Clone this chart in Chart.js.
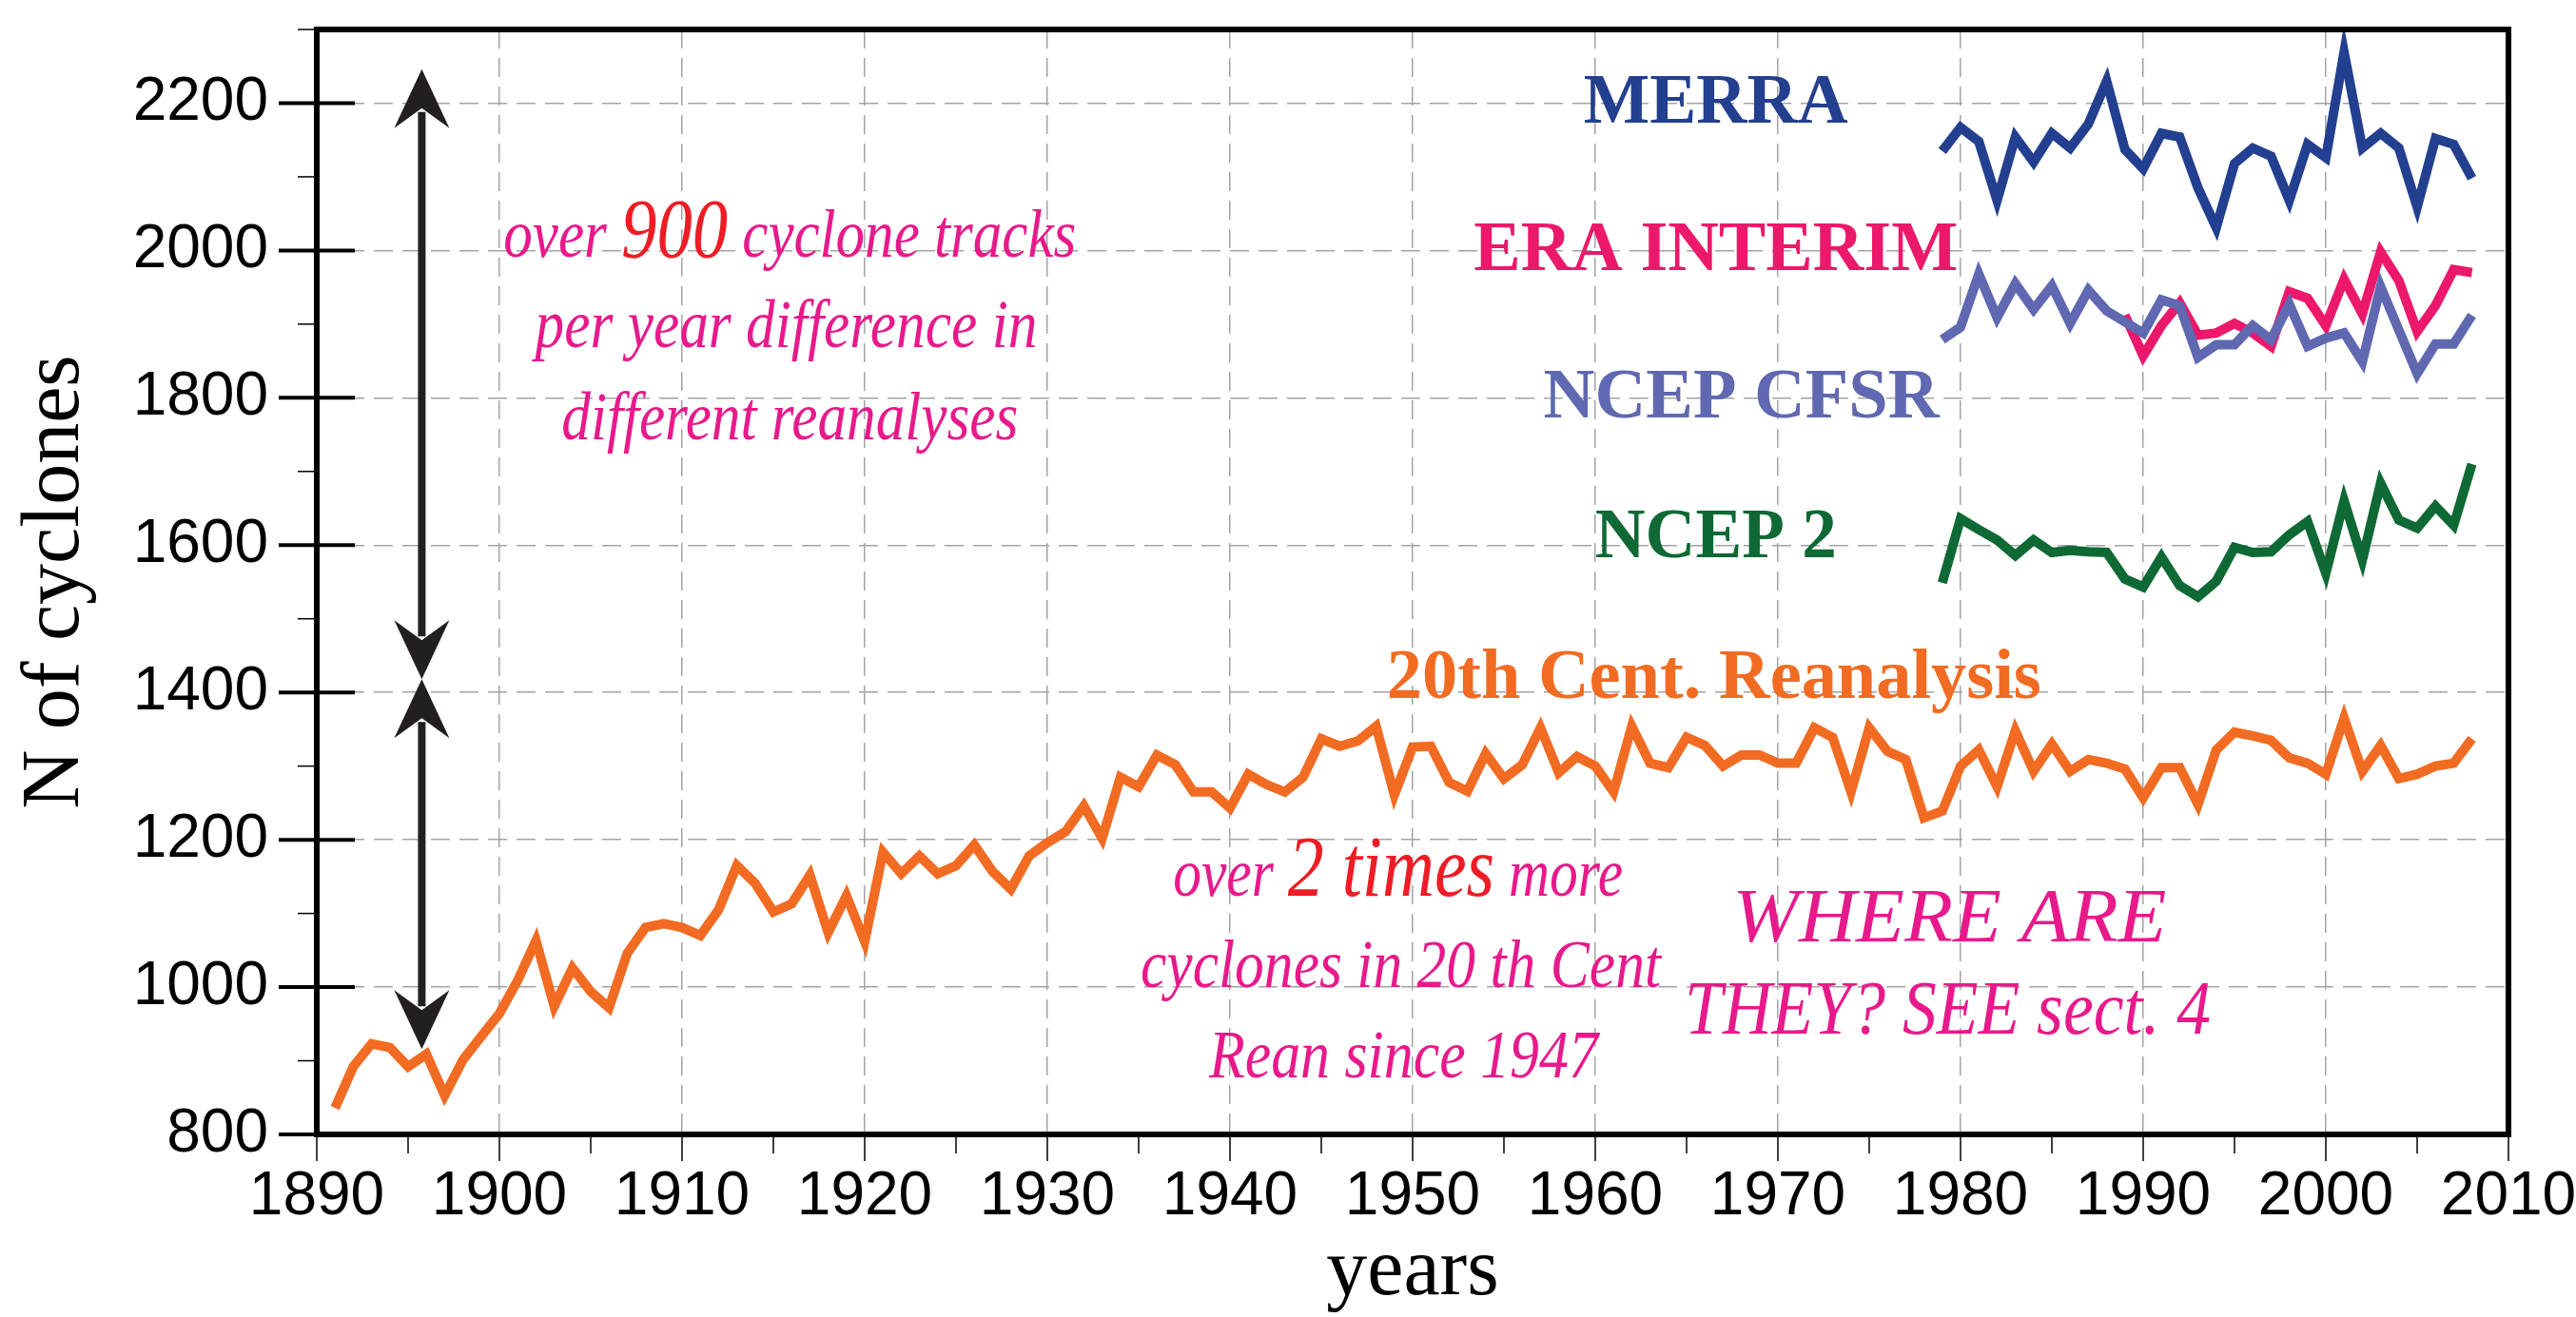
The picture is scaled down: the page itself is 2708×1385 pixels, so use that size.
<!DOCTYPE html>
<html>
<head>
<meta charset="utf-8">
<script src="https://cdn.jsdelivr.net/npm/chart.js@4.4.1/dist/chart.umd.min.js"></script>
<style>
  html, body { margin: 0; padding: 0; background: #fff; }
</style>
</head>
<body>
<canvas id="grafico" width="2708" height="1385"></canvas>
<script>
//#region dados
const anoInicio20 = 1891
const anoInicioRean = 1979
const anoInicioEra = 1989

// 20th Century Reanalysis, 1891-2008
const c20 = [
  836, 892, 923, 918, 892, 909, 853, 901, 933,
  964, 1009, 1063, 974, 1026, 994, 972, 1046, 1081, 1086,
  1081, 1070, 1105, 1165, 1141, 1102, 1113, 1152, 1074, 1124,
  1062, 1183, 1154, 1178, 1154, 1165, 1193, 1157, 1133, 1178,
  1196, 1211, 1246, 1202, 1285, 1272, 1315, 1302, 1265, 1265,
  1243, 1289, 1275, 1265, 1285, 1337, 1327, 1334, 1354, 1261,
  1326, 1327, 1278, 1266, 1317, 1283, 1302, 1352, 1291, 1313,
  1300, 1265, 1354, 1304, 1298, 1339, 1328, 1300, 1315, 1315,
  1304, 1304, 1352, 1339, 1265, 1352, 1320, 1309, 1230, 1239,
  1300, 1322, 1272, 1348, 1293, 1330, 1293, 1309, 1304, 1296,
  1257, 1298, 1298, 1248, 1322, 1346, 1341, 1335, 1311, 1304,
  1289, 1365, 1293, 1328, 1283, 1289, 1300, 1304, 1337
]

// 1979-2008
const merra = [2135, 2167, 2148, 2068, 2154, 2120, 2159, 2139, 2172, 2230,
  2137, 2111, 2159, 2154, 2085, 2031, 2118, 2139, 2128, 2068,
  2144, 2126, 2269, 2139, 2159, 2139, 2059, 2152, 2144, 2098]

const cfsr = [1879, 1896, 1968, 1909, 1955, 1920, 1952, 1901, 1946, 1918,
  1903, 1888, 1933, 1925, 1855, 1872, 1872, 1898, 1879, 1927,
  1870, 1881, 1888, 1849, 1951, 1892, 1833, 1873, 1873, 1912]

const ncep2 = [1549, 1636, 1621, 1607, 1586, 1607, 1590, 1593, 1591, 1590,
  1554, 1543, 1584, 1545, 1530, 1551, 1597, 1590, 1591, 1614,
  1632, 1562, 1660, 1580, 1684, 1634, 1623, 1653, 1627, 1710]

// 1989-2008
const eraInterim = [1912, 1857, 1898, 1929, 1885, 1888, 1901, 1888, 1870, 1944,
  1935, 1898, 1961, 1914, 1998, 1959, 1890, 1925, 1974, 1970]

const ticksX = [1890, 1900, 1910, 1920, 1930, 1940, 1950, 1960, 1970, 1980, 1990, 2000, 2010]
const ticksY = [800, 1000, 1200, 1400, 1600, 1800, 2000, 2200]
//#endregion

const pontos = (valores, inicio) => valores.map((v, i) => ({ x: inicio + i, y: v }))

const serie = (label, valores, inicio, cor) => ({
  label: label,
  data: pontos(valores, inicio),
  borderColor: cor,
  borderWidth: 10,
  pointRadius: 0,
  tension: 0,
  fill: false,
  borderJoinStyle: 'miter'
})

const fonteMao = '"Liberation Serif", serif'
const rosa = '#e8198b'
const vermelho = '#ee1c25'

// desenha uma linha de texto com varias partes, comprimida na largura pedida
function linhaTexto(ctx, partes, cx, base, largura) {
  let total = 0
  partes.forEach(p => { ctx.font = p.font; p.w = ctx.measureText(p.t).width; total += p.w })
  const s = largura / total
  ctx.save()
  ctx.translate(cx, base)
  ctx.scale(s, 1)
  ctx.textAlign = 'left'
  ctx.textBaseline = 'alphabetic'
  let xx = -total / 2
  partes.forEach(p => { ctx.font = p.font; ctx.fillStyle = p.cor; ctx.fillText(p.t, xx, 0); xx += p.w })
  ctx.restore()
}

function pontaSeta(ctx, px, py, dir) {
  // dir = -1 ponta para cima, 1 ponta para baixo
  ctx.beginPath()
  ctx.moveTo(px, py)
  ctx.lineTo(px + 29, py - dir * 62)
  ctx.lineTo(px, py - dir * 41)
  ctx.lineTo(px - 29, py - dir * 62)
  ctx.closePath()
  ctx.fill()
}

function setaDupla(ctx, px, yTopo, yBase) {
  ctx.fillStyle = '#231f20'
  ctx.strokeStyle = '#231f20'
  ctx.lineWidth = 8
  ctx.beginPath()
  ctx.moveTo(px, yTopo + 45)
  ctx.lineTo(px, yBase - 45)
  ctx.stroke()
  pontaSeta(ctx, px, yTopo, -1)
  pontaSeta(ctx, px, yBase, 1)
}

const extras = {
  id: 'extras',
  afterDatasetsDraw(chart) {
    const { ctx, chartArea: a, scales: { x, y } } = chart
    ctx.save()
    ctx.strokeStyle = '#000'

    // ticks do eixo y
    for (let v = 800; v <= 2300; v += 100) {
      const py = y.getPixelForValue(v)
      ctx.beginPath()
      if (ticksY.includes(v)) {
        ctx.lineWidth = 4
        ctx.moveTo(a.left - 40, py)
        ctx.lineTo(a.left + 40, py)
      } else {
        ctx.lineWidth = 1.5
        ctx.moveTo(a.left - 20, py)
        ctx.lineTo(a.left, py)
      }
      ctx.stroke()
    }
    // ticks do eixo x
    for (let v = 1890; v <= 2010; v += 5) {
      const px = x.getPixelForValue(v)
      ctx.beginPath()
      ctx.lineWidth = 1.5
      ctx.moveTo(px, a.bottom)
      ctx.lineTo(px, a.bottom + (ticksX.includes(v) ? 28 : 20))
      ctx.stroke()
    }
    // moldura
    ctx.lineWidth = 6
    ctx.strokeRect(a.left, a.top, a.right - a.left, a.bottom - a.top)

    // setas
    const xs = x.getPixelForValue(1895.75)
    setaDupla(ctx, xs, y.getPixelForValue(2246), y.getPixelForValue(1418))
    setaDupla(ctx, xs, y.getPixelForValue(1418), y.getPixelForValue(916))

    // nomes das series
    const rotulo = (t, cor, ano, val, larg) =>
      linhaTexto(ctx, [{ t: t, font: 'bold 75px "Liberation Serif"', cor: cor }],
        x.getPixelForValue(ano), y.getPixelForValue(val), larg)
    rotulo('MERRA', '#233f8f', 1966.6, 2174, 278)
    rotulo('ERA INTERIM', '#ec186b', 1966.6, 1974, 509)
    rotulo('NCEP CFSR', '#5f68b0', 1968.0, 1773, 416)
    rotulo('NCEP 2', '#0f6934', 1966.6, 1583, 254)
    rotulo('20th Cent. Reanalysis', '#f26b22', 1966.5, 1393, 688)

    // textos "a mao"
    const m = (t, cor, tam) => ({ t: t, font: 'italic ' + tam + 'px ' + fonteMao, cor: cor })
    const frase = (partes, ano, val, larg) =>
      linhaTexto(ctx, partes, x.getPixelForValue(ano), y.getPixelForValue(val), larg)

    frase([m('over ', rosa, 72), m('900', vermelho, 88), m(' cyclone tracks', rosa, 72)], 1915.9, 1991, 602)
    frase([m('per year difference in', rosa, 72)], 1915.7, 1869, 528)
    frase([m('different reanalyses', rosa, 72)], 1915.9, 1744, 480)

    frase([m('over ', rosa, 72), m('2 times', vermelho, 92), m(' more', rosa, 72)], 1949.2, 1124, 473)
    frase([m('cyclones in 20 th Cent', rosa, 72)], 1949.35, 1000, 547)
    frase([m('Rean since 1947', rosa, 72)], 1949.5, 877, 409)

    frase([m('WHERE ARE', rosa, 80)], 1979.4, 1062, 456)
    frase([m('THEY? SEE sect. 4', rosa, 80)], 1979.3, 937, 553)

    ctx.restore()
  }
}

const cinza = '#a3a3a3'

const CriaGrafico = () => {
  const ctx = document.getElementById('grafico')
  new Chart(ctx, {
    type: 'line',
    data: {
      datasets: [
        serie('20th Cent. Reanalysis', c20, anoInicio20, '#f26b22'),
        serie('MERRA', merra, anoInicioRean, '#233f8f'),
        serie('NCEP CFSR', cfsr, anoInicioRean, '#5f68b0'),
        serie('ERA INTERIM', eraInterim, anoInicioEra, '#ec186b'),
        serie('NCEP 2', ncep2, anoInicioRean, '#0f6934')
      ]
    },
    options: {
      responsive: false,
      animation: false,
      layout: { padding: { top: 31, right: 71, left: 0, bottom: 0 } },
      plugins: { legend: { display: false }, tooltip: { enabled: false } },
      scales: {
        x: {
          type: 'linear',
          min: 1890,
          max: 2010,
          afterFit: (s) => { s.height = 192; s.paddingLeft = 0; s.paddingRight = 0 },
          ticks: {
            stepSize: 10,
            color: '#000',
            padding: 28,
            maxRotation: 0,
            font: { family: '"Liberation Sans"', size: 64 },
            callback: (v) => ticksX.includes(v) ? String(v) : ''
          },
          grid: {
            drawTicks: false,
            lineWidth: 1.5,
            color: (c) => (c.tick && c.tick.value > 1890 && c.tick.value < 2010) ? cinza : 'rgba(0,0,0,0)'
          },
          border: { display: false, dash: [20, 10] },
          title: {
            display: true,
            text: 'years',
            color: '#000',
            font: { family: '"Liberation Serif"', size: 86, lineHeight: 1 },
            padding: { top: 0, bottom: 4 }
          }
        },
        y: {
          min: 800,
          max: 2300,
          afterFit: (s) => { s.width = 333; s.paddingTop = 0; s.paddingBottom = 0 },
          ticks: {
            stepSize: 100,
            color: '#000',
            padding: 51,
            font: { family: '"Liberation Sans"', size: 64 },
            callback: (v) => ticksY.includes(v) ? String(v) : ''
          },
          grid: {
            drawTicks: false,
            lineWidth: 1.5,
            color: (c) => (c.tick && ticksY.includes(c.tick.value) && c.tick.value > 800) ? cinza : 'rgba(0,0,0,0)'
          },
          border: { display: false, dash: [20, 10] },
          title: {
            display: true,
            text: 'N of cyclones',
            color: '#000',
            font: { family: '"Liberation Serif"', size: 86, lineHeight: 1 },
            padding: { top: 16, bottom: 0 }
          }
        }
      }
    },
    plugins: [extras]
  })
}

CriaGrafico()
</script>
</body>
</html>
